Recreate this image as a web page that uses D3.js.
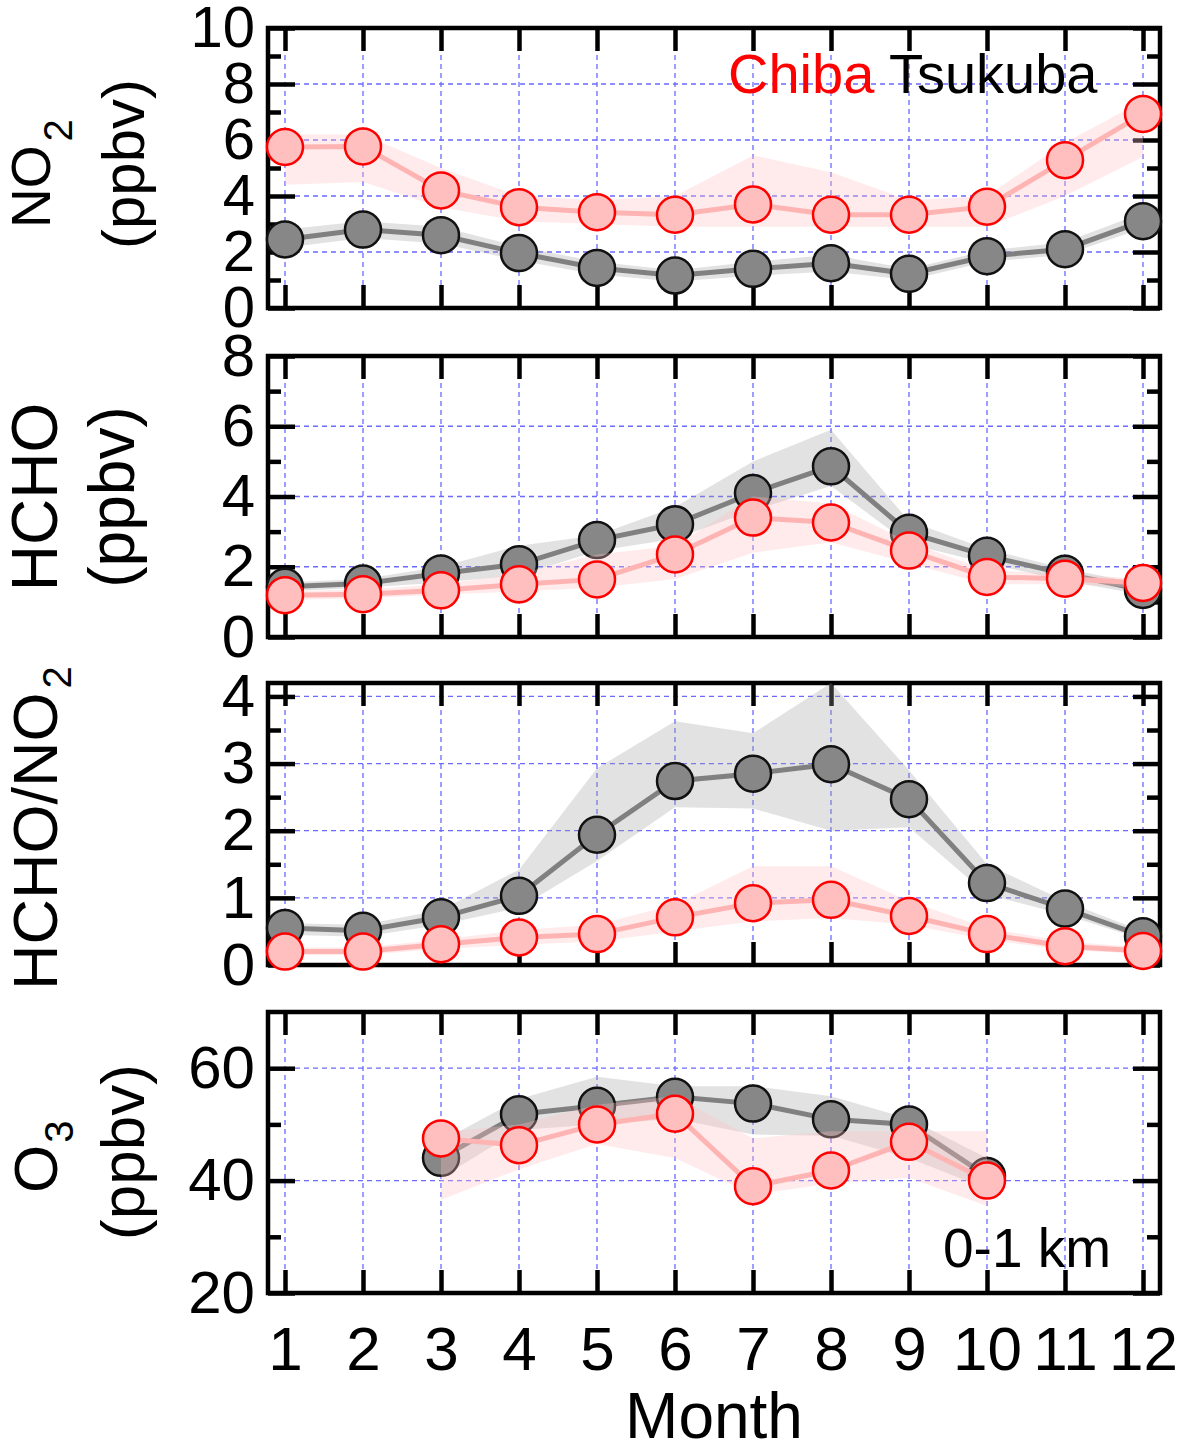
<!DOCTYPE html>
<html><head><meta charset="utf-8">
<script src="https://cdn.jsdelivr.net/npm/d3@7"></script>
<style>body{margin:0;background:#fff} text{font-family:"Liberation Sans",Arial,Helvetica,sans-serif}</style>
</head><body><svg id="c" width="1181" height="1445"></svg>
<script>
// ---------- data ----------
const months = [1,2,3,4,5,6,7,8,9,10,11,12];
const monthLabels = ["1","2","3","4","5","6","7","8","9","10","11","12"];

const no2Tsukuba   = [2.45, 2.8, 2.6, 1.96, 1.43, 1.16, 1.4, 1.6, 1.22, 1.85, 2.1, 3.1];
const no2TsukubaLo = [2.15, 2.5, 2.3, 1.7, 1.2, 0.95, 1.15, 1.3, 1.0, 1.65, 1.9, 2.85];
const no2TsukubaHi = [2.8, 3.1, 2.9, 2.2, 1.65, 1.35, 1.65, 1.9, 1.4, 2.05, 2.35, 3.4];
const no2Chiba     = [5.75, 5.77, 4.2, 3.6, 3.42, 3.33, 3.7, 3.33, 3.33, 3.62, 5.28, 6.93];
const no2ChibaLo   = [4.4, 4.5, 3.6, 3.1, 3.0, 2.9, 2.9, 2.9, 2.9, 2.9, 4.0, 5.4];
const no2ChibaHi   = [6.2, 6.2, 5.0, 4.0, 3.85, 4.0, 5.45, 4.85, 3.85, 4.0, 5.9, 7.4];

const hchoTsukuba   = [1.43, 1.52, 1.81, 2.07, 2.76, 3.21, 4.1, 4.86, 2.97, 2.31, 1.8, 1.34];
const hchoTsukubaLo = [1.3, 1.4, 1.55, 1.75, 2.45, 2.8, 3.6, 4.3, 2.65, 2.1, 1.6, 1.2];
const hchoTsukubaHi = [1.55, 1.65, 2.0, 2.6, 2.9, 3.7, 5.0, 5.9, 3.3, 2.5, 1.95, 1.5];
const hchoChiba     = [1.19, 1.22, 1.33, 1.5, 1.64, 2.35, 3.4, 3.26, 2.46, 1.71, 1.66, 1.54];
const hchoChibaLo   = [1.05, 1.1, 1.2, 1.3, 1.4, 1.65, 2.4, 2.7, 2.1, 1.5, 1.5, 1.4];
const hchoChibaHi   = [1.3, 1.35, 1.5, 1.8, 2.35, 2.6, 4.0, 3.8, 2.7, 1.9, 1.8, 1.65];

const ratioTsukuba   = [0.55, 0.51, 0.71, 1.03, 1.94, 2.74, 2.85, 2.99, 2.47, 1.22, 0.84, 0.43];
const ratioTsukubaLo = [0.45, 0.42, 0.6, 0.85, 1.55, 2.35, 2.33, 2.0, 2.05, 1.05, 0.75, 0.38];
const ratioTsukubaHi = [0.62, 0.6, 0.82, 1.42, 2.93, 3.63, 3.45, 4.2, 2.9, 1.5, 0.95, 0.5];
const ratioChiba     = [0.2, 0.2, 0.31, 0.41, 0.46, 0.71, 0.92, 0.97, 0.73, 0.46, 0.28, 0.21];
const ratioChibaLo   = [0.15, 0.15, 0.24, 0.3, 0.35, 0.5, 0.65, 0.7, 0.6, 0.38, 0.22, 0.17];
const ratioChibaHi   = [0.26, 0.26, 0.38, 0.52, 0.6, 0.9, 1.47, 1.47, 0.95, 0.55, 0.35, 0.26];

const o3Tsukuba   = [null, null, 44.05, 51.8, 53.3, 54.9, 53.7, 50.9, 50.0, 40.8, null, null];
const o3TsukubaLo = [null, null, 40.5, 49.0, 50.0, 51.0, 48.2, 48.0, 44.0, 38.5, null, null];
const o3TsukubaHi = [null, null, 47.0, 54.5, 58.5, 56.8, 56.8, 55.0, 51.0, 44.0, null, null];
const o3Chiba     = [null, null, 47.5, 46.3, 50.0, 51.9, 39.0, 41.8, 46.9, 40.0, null, null];
const o3ChibaLo   = [null, null, 36.6, 42.0, 46.5, 44.0, 37.5, 39.5, 40.5, 35.5, null, null];
const o3ChibaHi   = [null, null, 48.5, 50.0, 53.5, 55.0, 47.5, 48.8, 48.8, 48.8, null, null];

const no2Ticks = [0,2,4,6,8,10], no2Minor = [1,3,5,7,9];
const hchoTicks = [0,2,4,6,8], hchoMinor = [1,3,5,7];
const ratioTicks = [0,1,2,3,4], ratioMinor = [0.5,1.5,2.5,3.5];
const o3Ticks = [20,40,60], o3Minor = [30,50], o3Grid = [40,60];

// ---------- layout ----------
const X0 = 268, X1 = 1160;
const svg = d3.select("#c");
const x = d3.scaleLinear().domain([1 - 17/78, 12 + 17/78]).range([X0, X1]);

const GRID = "#6a6aff";
const FONT = "'Liberation Sans', Arial, Helvetica, sans-serif";

const panels = [
  {top:28, bottom:308, domain:[0,10], majors:no2Ticks, minors:no2Minor, grid:[2,4,6,8], tickFont:58,
   ts:[no2Tsukuba,no2TsukubaLo,no2TsukubaHi], ch:[no2Chiba,no2ChibaLo,no2ChibaHi]},
  {top:356, bottom:637, domain:[0,8], majors:hchoTicks, minors:hchoMinor, grid:[2,4,6], tickFont:60,
   ts:[hchoTsukuba,hchoTsukubaLo,hchoTsukubaHi], ch:[hchoChiba,hchoChibaLo,hchoChibaHi]},
  {top:683, bottom:965, domain:[0,4.2], majors:ratioTicks, minors:ratioMinor, grid:[1,2,3,4], tickFont:60,
   ts:[ratioTsukuba,ratioTsukubaLo,ratioTsukubaHi], ch:[ratioChiba,ratioChibaLo,ratioChibaHi]},
  {top:1012, bottom:1293, domain:[20,70], majors:o3Ticks, minors:o3Minor, grid:o3Grid, tickFont:60,
   ts:[o3Tsukuba,o3TsukubaLo,o3TsukubaHi], ch:[o3Chiba,o3ChibaLo,o3ChibaHi]}
];

function styleAxis(a, fs) {
  a.select(".domain").remove();
  a.selectAll("line").attr("stroke", "#000").attr("stroke-width", 4.5);
  a.selectAll("text").style("font-size", fs + "px").style("font-family", FONT).attr("fill", "#000");
}

panels.forEach(p => {
  const y = d3.scaleLinear().domain(p.domain).range([p.bottom, p.top]);
  const g = svg.append("g");

  // gridlines
  g.append("g").selectAll("line").data(months).join("line")
    .attr("x1", d => x(d)).attr("x2", d => x(d)).attr("y1", p.top).attr("y2", p.bottom)
    .attr("stroke", GRID).attr("stroke-width", 1.3).attr("stroke-dasharray", "5,4");
  g.append("g").selectAll("line").data(p.grid).join("line")
    .attr("x1", X0).attr("x2", X1).attr("y1", d => y(d)).attr("y2", d => y(d))
    .attr("stroke", GRID).attr("stroke-width", 1.3).attr("stroke-dasharray", "5,4");

  // axes (inward ticks)
  g.append("g").attr("transform", `translate(${X0},0)`)
    .call(d3.axisLeft(y).tickValues(p.majors).tickSizeInner(-27).tickSizeOuter(0).tickPadding(13).tickFormat(d3.format("d")))
    .call(a => styleAxis(a, p.tickFont));
  g.append("g").attr("transform", `translate(${X0},0)`)
    .call(d3.axisLeft(y).tickValues(p.minors).tickSizeInner(-13).tickSizeOuter(0).tickFormat(""))
    .call(a => styleAxis(a, 10));
  g.append("g").attr("transform", `translate(${X1},0)`)
    .call(d3.axisRight(y).tickValues(p.majors).tickSizeInner(-27).tickSizeOuter(0).tickFormat(""))
    .call(a => styleAxis(a, 10));
  g.append("g").attr("transform", `translate(${X1},0)`)
    .call(d3.axisRight(y).tickValues(p.minors).tickSizeInner(-13).tickSizeOuter(0).tickFormat(""))
    .call(a => styleAxis(a, 10));
  g.append("g").attr("transform", `translate(0,${p.top})`)
    .call(d3.axisTop(x).tickValues(months).tickSizeInner(-23).tickSizeOuter(0).tickFormat(""))
    .call(a => styleAxis(a, 10));
  g.append("g").attr("transform", `translate(0,${p.bottom})`)
    .call(d3.axisBottom(x).tickValues(months).tickSizeInner(-23).tickSizeOuter(0).tickFormat(""))
    .call(a => styleAxis(a, 10));

  // frame
  g.append("rect").attr("x", X0).attr("y", p.top).attr("width", X1 - X0).attr("height", p.bottom - p.top)
    .attr("fill", "none").attr("stroke", "#000").attr("stroke-width", 4.5);

  const area = (lo, hi) => d3.area().defined((d, i) => lo[i] != null)
    .x(d => x(d)).y0((d, i) => y(lo[i])).y1((d, i) => y(hi[i]));
  const line = vals => d3.line().defined((d, i) => vals[i] != null).x(d => x(d)).y((d, i) => y(vals[i]));

  const series = [
    {vals:p.ts, band:"#a0a0a0", bandOp:0.3, line:"#808080", fill:"#878787", stroke:"#111"},
    {vals:p.ch, band:"#ffc0c0", bandOp:0.32, line:"#ffb4b4", fill:"#ffbfbf", stroke:"#ff0000"}
  ];
  series.forEach(s => {
    const [v, lo, hi] = s.vals;
    g.append("path").datum(months).attr("d", area(lo, hi)).attr("fill", s.band).attr("fill-opacity", s.bandOp);
    g.append("path").datum(months).attr("d", line(v)).attr("fill", "none").attr("stroke", s.line).attr("stroke-width", 5);
    g.append("g").selectAll("circle").data(months.filter((d, i) => v[i] != null)).join("circle")
      .attr("cx", d => x(d)).attr("cy", d => y(v[d - 1])).attr("r", 18)
      .attr("fill", s.fill).attr("stroke", s.stroke).attr("stroke-width", 2.5);
  });
});

// bottom month labels
svg.append("g").attr("transform", `translate(0,1293)`)
  .call(d3.axisBottom(x).tickValues(months).tickSize(0).tickPadding(33).tickFormat((d, i) => monthLabels[i]))
  .call(a => { styleAxis(a, 62); });

// y-axis titles
function vlabel(xb, yc, anchor, fs, main, sub, subFs, subDy, subDx) {
  const t = svg.append("text").attr("transform", `translate(${xb},${yc}) rotate(-90)`)
    .attr("text-anchor", anchor).style("font-size", fs + "px").attr("fill", "#000");
  t.append("tspan").text(main);
  if (sub) t.append("tspan").attr("dy", subDy).attr("dx", subDx).style("font-size", subFs + "px").text(sub);
}
vlabel(50, 228, "start", 55, "NO", "2", 40, 22, 4);
vlabel(144, 164, "middle", 60, "(ppbv)");
vlabel(57, 497, "middle", 64, "HCHO");
vlabel(134, 497, "middle", 64, "(ppbv)");
vlabel(57, 990, "start", 63, "HCHO/NO", "2", 40, 14, 4);
vlabel(57, 1193, "start", 62, "O", "3", 40, 16, 2);
vlabel(144, 1152, "middle", 62, "(ppbv)");

// legend & annotations
const leg = svg.append("text").attr("x", 728).attr("y", 93).style("font-size", "56px");
leg.append("tspan").attr("fill", "#ff0000").text("Chiba");
leg.append("tspan").attr("fill", "#000").text(" Tsukuba");

svg.append("text").attr("x", 943).attr("y", 1267).style("font-size", "55px").attr("fill", "#000").text("0-1 km");
svg.append("text").attr("x", 714).attr("y", 1438).attr("text-anchor", "middle").style("font-size", "64px").attr("fill", "#000").text("Month");
</script></body></html>
